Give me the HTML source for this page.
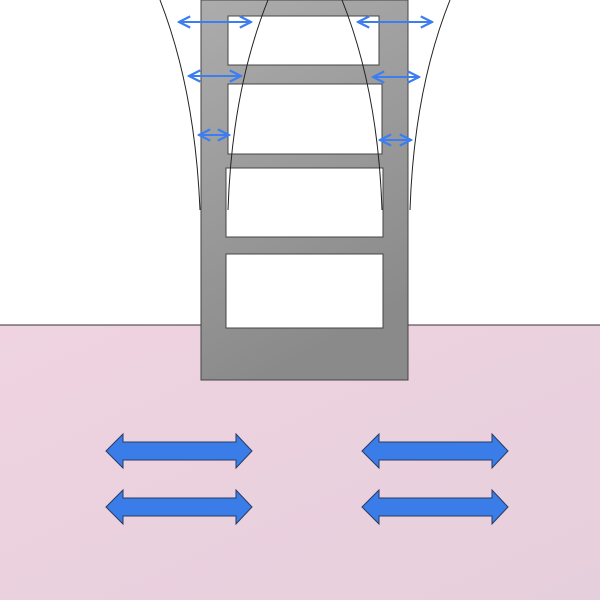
<!DOCTYPE html><html><head><style>body{margin:0}</style></head><body>
<svg width="600" height="600" viewBox="0 0 600 600" xmlns="http://www.w3.org/2000/svg">
<defs>
<linearGradient id="p" x1="0" y1="0" x2="1" y2="1"><stop offset="0" stop-color="#efd3e0"/><stop offset="1" stop-color="#e6cfdc"/></linearGradient>
<linearGradient id="g" x1="0" y1="0" x2="0.3" y2="1"><stop offset="0" stop-color="#acacac"/><stop offset="1" stop-color="#8a8a8a"/></linearGradient>
<marker id="a" viewBox="0 0 10 10" refX="9" refY="5" markerWidth="7" markerHeight="7" orient="auto-start-reverse"><path d="M1 1L9 5L1 9" fill="none" stroke="#3c7ef0" stroke-width="1.6"/></marker>
</defs>
<rect width="600" height="600" fill="#fff"/>
<rect y="325" width="600" height="275" fill="url(#p)"/>
<line x1="0" y1="325" x2="600" y2="325" stroke="#333" stroke-width="1"/>
<rect x="226" y="254" width="157" height="74" fill="#fff"/>
<path fill-rule="evenodd" fill="url(#g)" stroke="#444" stroke-width="1" d="M201 0H408V380H201Z M228 16H379V65H228Z M228 84H382V154H228Z M226 168H383V237H226Z M226 254H383V328H226Z"/>
<g fill="none" stroke="#222" stroke-width="1">
<path d="M160 0Q195 90 200 210"/>
<path d="M268 0Q232 90 228 210"/>
<path d="M342 0Q378 90 382 210"/>
<path d="M450 0Q414 90 410 210"/>
</g>
<g stroke="#3c7ef0" stroke-width="2" marker-start="url(#a)" marker-end="url(#a)">
<line x1="179" y1="22" x2="251" y2="22"/>
<line x1="358" y1="22" x2="432" y2="22"/>
<line x1="189" y1="76" x2="241" y2="76"/>
<line x1="373" y1="77" x2="419" y2="77"/>
<line x1="199" y1="135" x2="229" y2="135"/>
<line x1="380" y1="140" x2="411" y2="140"/>
</g>
<g fill="#3a7de8" stroke="#2a3a60" stroke-width="1">
<path id="b" d="M106 451L123 434V442H236V434L252 451L236 468V460H123V468Z"/>
<use href="#b" y="56"/>
<use href="#b" x="256"/>
<use href="#b" x="256" y="56"/>
</g>
</svg>
</body></html>
